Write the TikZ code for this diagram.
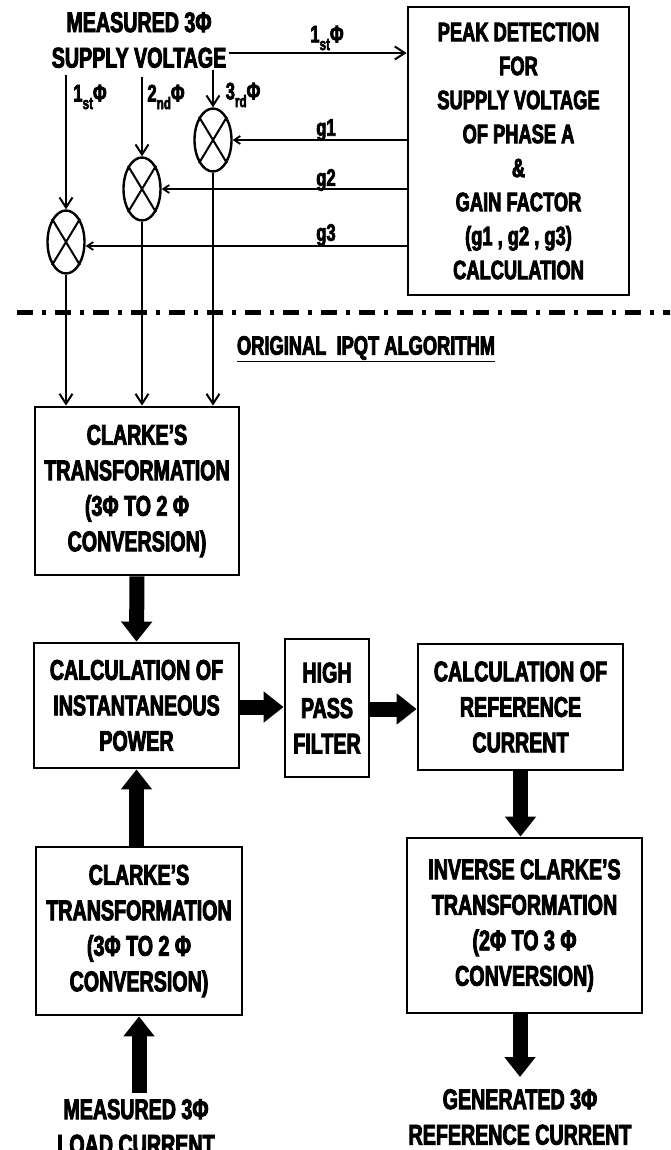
\documentclass[tikz,border=0pt]{standalone}
\usepackage{fontspec}
\newfontfamily\dfont{Liberation Sans}[FakeStretch=0.69,FakeBold=3]
\usetikzlibrary{arrows.meta,shapes.geometric}
\newcommand\lsub[1]{\raisebox{-0.32em}{\fontsize{17}{17}\selectfont #1}}
\begin{document}
\begin{tikzpicture}[x=1pt,y=-1pt,
  box/.style={draw, line width=2.8pt, align=center, inner sep=0pt, font=\dfont\bfseries\fontsize{28.5}{35.5}\selectfont},
  txt/.style={align=center, inner sep=0pt, font=\dfont\bfseries\fontsize{28.5}{35.5}\selectfont},
  lbl/.style={inner sep=0pt, font=\dfont\bfseries\fontsize{24}{24}\selectfont},
  mult/.style={draw, ellipse, line width=2.4pt, minimum width=37pt, minimum height=63pt, inner sep=0pt},
  thinarrow/.style={line width=2pt, -{Straight Barb[length=10pt,width=13pt]}},
  garrow/.style={line width=1.8pt, -{Straight Barb[length=6pt,width=8pt]}},
  bigarrow/.style={line width=15pt, -{Triangle[length=20pt,width=30pt]}}
]
\fill[white] (0,0) rectangle (670,1150);
\clip (0,0) rectangle (670,1150);

% top text and peak detection box
\node[txt] (supply) at (139,40) {MEASURED 3Φ\\SUPPLY VOLTAGE};
\node[box, minimum width=221pt, minimum height=288pt, font=\dfont\bfseries\fontsize{26.5}{34}\selectfont] (peak) at (518.5,151)
  {PEAK DETECTION\\FOR\\SUPPLY VOLTAGE\\OF PHASE A\\\&\\GAIN FACTOR\\(g1 , g2 , g3)\\CALCULATION};

% multipliers
\node[mult] (m1) at (66,242) {};
\node[mult] (m2) at (142,189) {};
\node[mult] (m3) at (213,140) {};
\foreach \m in {m1,m2,m3}{
  \draw[line width=2pt] (\m.north west) -- (\m.south east) (\m.north east) -- (\m.south west);
}

% supply to peak
\coordinate (s0) at (229,53);
\draw[thinarrow] (s0) -- (s0 -| peak.west);
\node[lbl] (l0) at (327,38) {1\lsub{st}Φ};

% supply to multipliers
\coordinate (s1) at (66,75);
\coordinate (s2) at (142,77);
\coordinate (s3) at (213,70);
\draw[thinarrow] (s1) -- (m1.north);
\draw[thinarrow] (s2) -- (m2.north);
\draw[thinarrow] (s3) -- (m3.north);
\node[lbl] (l1) at (90,97) {1\lsub{st}Φ};
\node[lbl] (l2) at (166,97) {2\lsub{nd}Φ};
\node[lbl] (l3) at (243,95) {3\lsub{rd}Φ};

% gains
\draw[garrow] (peak.west |- m3.east) -- (m3.east);
\draw[garrow] (peak.west |- m2.east) -- (m2.east);
\draw[garrow] (peak.west |- 0,246) -- (m1.east |- 0,246);
\node[lbl] (g1) at (326,130) {g1};
\node[lbl] (g2) at (326,180) {g2};
\node[lbl] (g3) at (326,235) {g3};

% separator
\draw[line width=5pt, dash pattern=on 16pt off 9pt on 4pt off 9pt] (17,312) -- (680,312);
\node[txt, font=\dfont\bfseries\fontsize{26.5}{30}\selectfont] (orig) at (366,349) {\underline{ORIGINAL\ \ IPQT ALGORITHM}};

% lower boxes
\node[box, minimum width=204pt, minimum height=168pt] (clarke1) at (137,491)
  {CLARKE’S\\TRANSFORMATION\\(3Φ TO 2 Φ\\CONVERSION)};
\node[box, minimum width=205pt, minimum height=125pt] (calc) at (136.5,705.5)
  {CALCULATION OF\\INSTANTANEOUS\\POWER};
\node[box, minimum width=84pt, minimum height=138pt] (hpf) at (327,708)
  {HIGH\\PASS\\FILTER};
\node[box, minimum width=205pt, minimum height=126pt] (ref) at (520.5,707)
  {CALCULATION OF\\REFERENCE\\CURRENT};
\node[box, minimum width=206pt, minimum height=168pt] (clarke2) at (139,931)
  {CLARKE’S\\TRANSFORMATION\\(3Φ TO 2 Φ\\CONVERSION)};
\node[box, minimum width=235pt, minimum height=175pt] (inv) at (524.5,925.5)
  {INVERSE CLARKE’S\\TRANSFORMATION\\(2Φ TO 3 Φ\\CONVERSION)};
\node[txt] (load) at (136,1127) {MEASURED 3Φ\\LOAD CURRENT};
\node[txt] (gen) at (520,1117) {GENERATED 3Φ\\REFERENCE CURRENT};

% thin arrows into clarke1
\draw[thinarrow] (m1.south) -- (m1.south |- clarke1.north);
\draw[thinarrow] (m2.south) -- (m2.south |- clarke1.north);
\draw[thinarrow] (m3.south) -- (m3.south |- clarke1.north);

% thick arrows
\draw[bigarrow] (clarke1.south) -- (calc.north);
\draw[bigarrow] (calc.east |- 0,707) -- (hpf.west |- 0,707);
\draw[bigarrow] (hpf.east |- 0,709) -- (ref.west |- 0,709);
\draw[bigarrow] (clarke2.north -| calc.south) -- (calc.south);
\coordinate (lt) at (139,1093);
\draw[bigarrow] (lt) -- (lt |- clarke2.south);
\draw[bigarrow] (ref.south) -- (ref.south |- inv.north);
\coordinate (gt) at (520,1077);
\draw[bigarrow] (inv.south -| gt) -- (gt);
\end{tikzpicture}
\end{document}
